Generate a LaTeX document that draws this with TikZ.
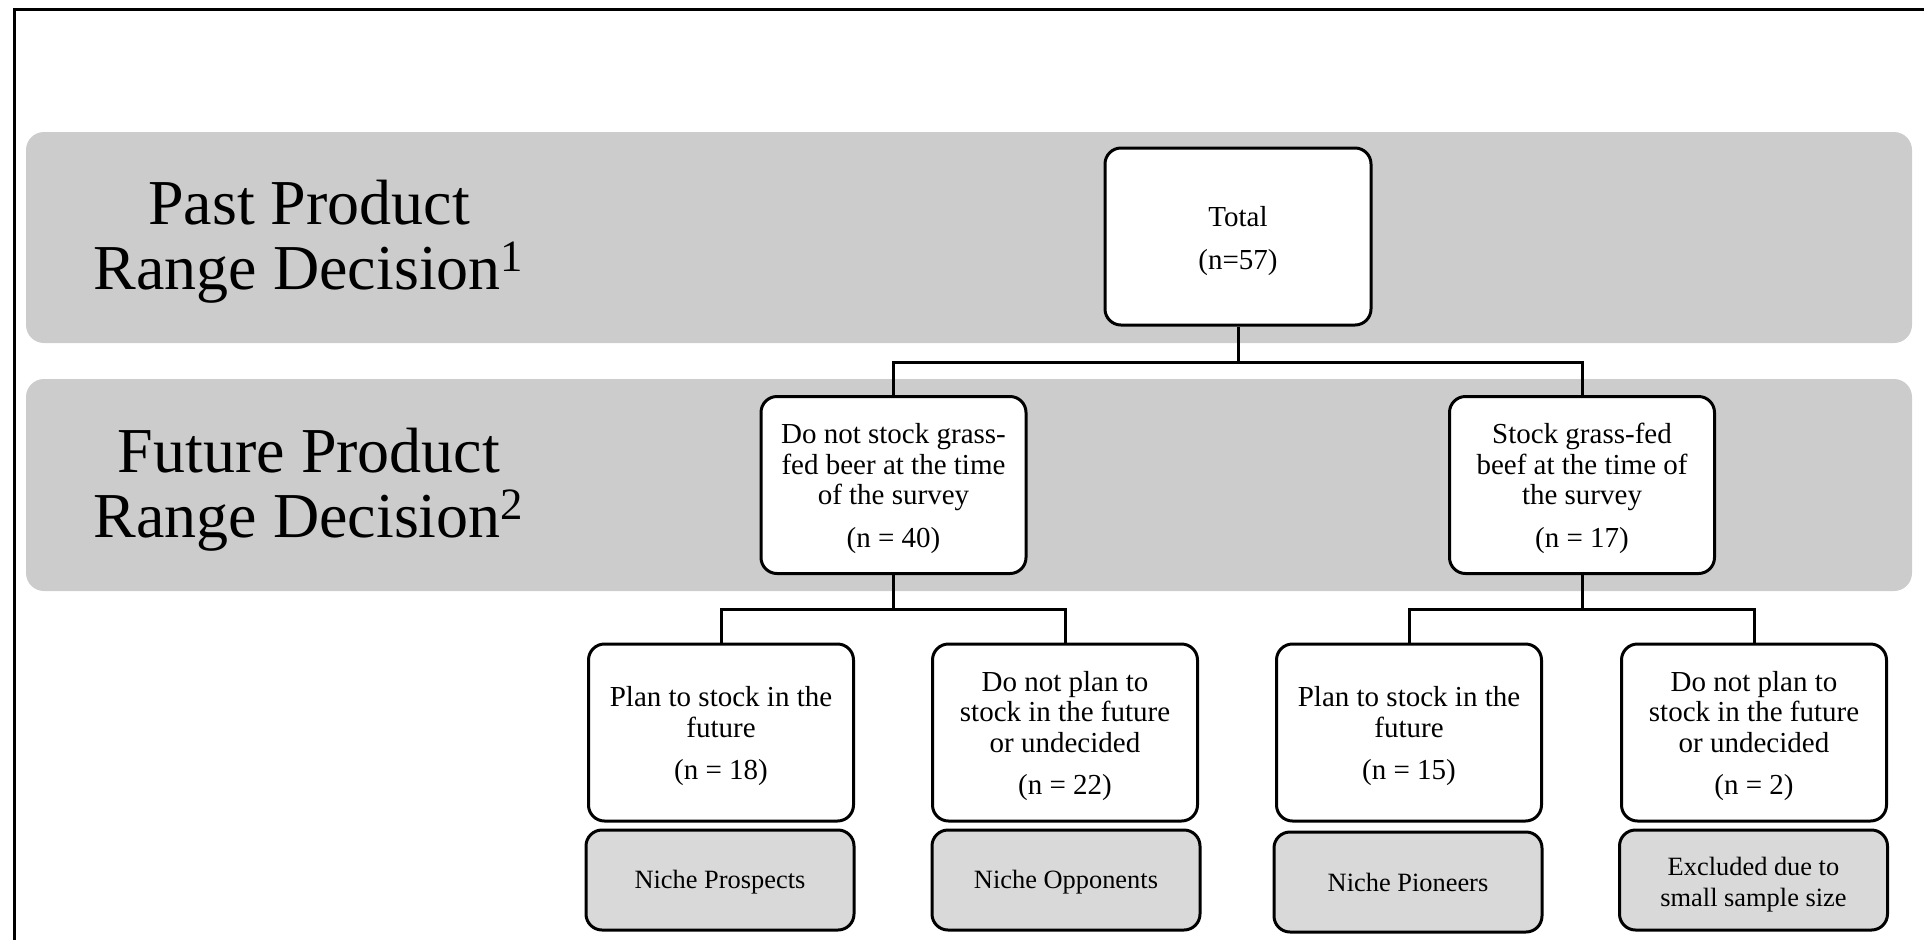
\documentclass[tikz,border=0pt]{standalone}
\usepackage{fontspec}
\setmainfont{Liberation Serif}
\definecolor{bandgray}{RGB}{204,204,204}
\definecolor{labelgray}{RGB}{217,217,217}
\newcommand\mystrut[1]{\rule{0pt}{#1}}
\tikzset{
  band/.style={fill=bandgray, rounded corners=9pt},
  box/.style={draw, line width=1.5pt, rounded corners=8pt, fill=white,
    minimum width=132.5pt, minimum height=88.5pt, align=center,
    font=\fontsize{14.5}{15.25}\selectfont, inner sep=0pt},
  catbox/.style={draw, line width=1.5pt, rounded corners=8pt, fill=labelgray,
    minimum width=134pt, minimum height=50pt, align=center,
    font=\fontsize{13.2}{15.5}\selectfont, inner sep=0pt},
  biglabel/.style={align=center, font=\fontsize{32}{32.5}\selectfont, inner sep=0pt},
  conn/.style={line width=1.5pt},
  frameline/.style={line width=1.5pt},
}
\begin{document}
\begin{tikzpicture}[x=0.5pt,y=-0.5pt]
\useasboundingbox (0,0) rectangle (1924,939);
% frame
\draw[frameline] (14.7,945) -- (14.7,9) -- (1930,9);
% bands
\fill[band] (26,132) rectangle (1912,343);
\fill[band] (26,379) rectangle (1912,591);
% row labels
\node[biglabel] (pastlabel) at (309,241.5) {Past Product\\Range Decision\textsuperscript{1}};
\node[biglabel] (futurelabel) at (309,489.5) {Future Product\\Range Decision\textsuperscript{2}};
% level 1
\node[box, minimum width=133pt] (total) at (1238,236.5) {\mystrut{14.2pt}Total\\[6.3pt](n=57)};
% level 2
\node[box] (nostock) at (893.5,485) {\mystrut{13.6pt}Do not stock grass-\\fed beer at the time\\of the survey\\[6pt](n = 40)};
\node[box] (stock) at (1582,485) {\mystrut{13.6pt}Stock grass-fed\\beef at the time of\\the survey\\[6pt](n = 17)};
% level 3
\node[box] (planA) at (721,732.5) {\mystrut{13.6pt}Plan to stock in the\\future\\[6pt](n = 18)};
\node[box] (noplanA) at (1065,732.5) {\mystrut{13.6pt}Do not plan to\\stock in the future\\or undecided\\[6pt](n = 22)};
\node[box] (planB) at (1409,732.5) {\mystrut{13.6pt}Plan to stock in the\\future\\[6pt](n = 15)};
\node[box] (noplanB) at (1754,732.5) {\mystrut{13.6pt}Do not plan to\\stock in the future\\or undecided\\[6pt](n = 2)};
% level 4
\node[catbox] (prospects) at (720,880) {\mystrut{11.5pt}Niche Prospects};
\node[catbox] (opponents) at (1066,880) {\mystrut{11.5pt}Niche Opponents};
\node[catbox] (pioneers) at (1408,882) {Niche Pioneers};
\node[catbox] (excluded) at (1753.5,880) {\mystrut{13.9pt}Excluded due to\\small sample size};
% connectors
\coordinate (j1) at (1238,362);
\coordinate (j2) at (893.5,609);
\coordinate (j3) at (1582,609);
\draw[conn] (total.south) -- (j1);
\draw[conn] (nostock.north) |- (j1) -| (stock.north);
\draw[conn] (nostock.south) -- (j2);
\draw[conn] (planA.north) |- (j2) -| (noplanA.north);
\draw[conn] (stock.south) -- (j3);
\draw[conn] (planB.north) |- (j3) -| (noplanB.north);
\end{tikzpicture}
\end{document}
